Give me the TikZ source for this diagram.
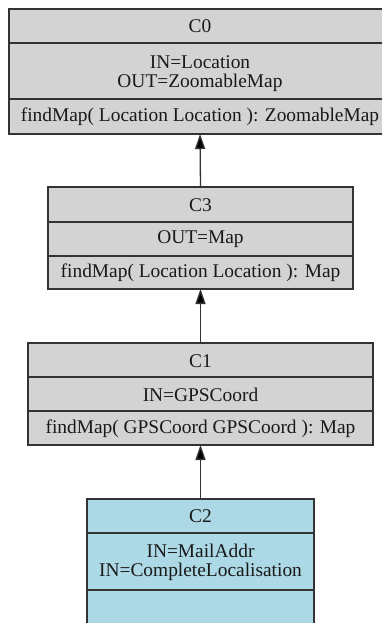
\documentclass[tikz,border=0pt]{standalone}
\usepackage{fontspec}
\newfontfamily\classfont{Liberation Serif}
\usetikzlibrary{arrows.meta}
\definecolor{edgegray}{HTML}{333333}
\definecolor{classgray}{HTML}{D3D3D3}
\definecolor{classblue}{HTML}{ADD8E6}
\tikzset{
  classbox/.style={draw=edgegray, line width=1.3pt, inner sep=0pt, outer sep=0pt},
  divider/.style={draw=edgegray, line width=1.3pt},
  label/.style={inner sep=0pt, font=\classfont\fontsize{19.4}{23}\selectfont, text=black!90},
  inherit/.style={draw=edgegray, line width=1.3pt,
    -{Triangle[width=10pt, length=15pt, fill=black]}},
}
\begin{document}
\begin{tikzpicture}[x=1pt, y=-1pt]
  \useasboundingbox (0,0) rectangle (382,623);

  % C0
  \node[classbox, fill=classgray, minimum width=382pt, minimum height=125pt] (c0) at (200,71.5) {};
  \draw[divider] (9,43) -- (391,43);
  \draw[divider] (9,99) -- (391,99);
  \node[label] (c0t) at (200,26) {C0};
  \node[label] (c0a1) at (200,62) {IN=Location};
  \node[label] (c0a2) at (200,83) {OUT=ZoomableMap};
  \node[label] (c0m) at (200,117) {findMap( Location Location ): ZoomableMap};

  % C3
  \node[classbox, fill=classgray, minimum width=305pt, minimum height=102pt] (c3) at (200.5,238) {};
  \draw[divider] (48,222) -- (353,222);
  \draw[divider] (48,256) -- (353,256);
  \node[label] (c3t) at (200.5,205) {C3};
  \node[label] (c3a1) at (200.5,239) {OUT=Map};
  \node[label] (c3m) at (200.5,273) {findMap( Location Location ): Map};

  % C1
  \node[classbox, fill=classgray, minimum width=345pt, minimum height=102pt] (c1) at (200.5,394) {};
  \draw[divider] (28,377) -- (373,377);
  \draw[divider] (28,411) -- (373,411);
  \node[label] (c1t) at (200.5,361) {C1};
  \node[label] (c1a1) at (200.5,395) {IN=GPSCoord};
  \node[label] (c1m) at (200.5,429) {findMap( GPSCoord GPSCoord ): Map};

  % C2
  \node[classbox, fill=classblue, minimum width=227pt, minimum height=126pt] (c2) at (200.5,562) {};
  \draw[divider] (87,533) -- (314,533);
  \draw[divider] (87,590) -- (314,590);
  \node[label] (c2t) at (200.5,516) {C2};
  \node[label] (c2a1) at (200.5,551) {IN=MailAddr};
  \node[label] (c2a2) at (200.5,572) {IN=CompleteLocalisation};

  % generalisation arrows
  \draw[inherit] (c3.north) -- (c0.south);
  \draw[inherit] (c1.north) -- (c3.south);
  \draw[inherit] (c2.north) -- (c1.south);
\end{tikzpicture}
\end{document}
